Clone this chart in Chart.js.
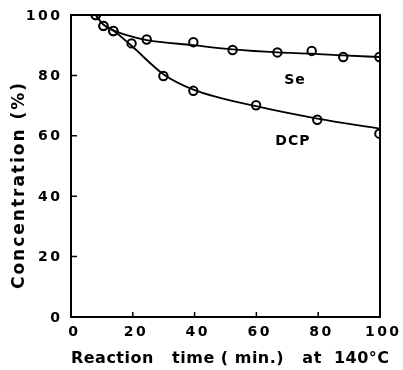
<!DOCTYPE html>
<html>
<head>
<meta charset="utf-8">
<script src="https://cdn.jsdelivr.net/npm/chart.js@4"></script>
<style>
html,body{margin:0;padding:0;background:#fff;}
#wrap{width:403px;height:370px;}
</style>
</head>
<body>
<div id="wrap"><canvas id="c" width="403" height="370"></canvas></div>
<script>
// Measured points (reaction time, concentration)
const seTime  = [8, 10.5, 13.7, 24.5, 39.6, 52.3, 66.8, 77.9, 88.1, 99.8];
const seConc  = [100, 96.4, 94.7, 91.9, 91.0, 88.4, 87.6, 88.1, 86.1, 86.1];
const dcpTime = [8, 10.5, 13.7, 19.6, 29.9, 39.6, 59.9, 79.7, 99.8];
const dcpConc = [100, 96.4, 94.7, 90.6, 79.8, 74.9, 70.1, 65.3, 60.7];
// Fitted curves
const seCurveTime  = [8, 10.5, 13.7, 18, 24.5, 39.6, 52.3, 66.8, 77.9, 88.1, 99.8];
const seCurveConc  = [100, 96.8, 94.9, 93.3, 91.7, 90.0, 88.6, 87.6, 87.2, 86.6, 86.1];
const dcpCurveTime = [8, 10.5, 13.7, 19.6, 29.9, 39.6, 59.9, 79.7, 99.8];
const dcpCurveConc = [100, 96.8, 94.9, 89.8, 80.4, 75.3, 69.8, 65.7, 62.4];
const xTicks = [0, 20, 40, 60, 80, 100];
const yTicks = [0, 20, 40, 60, 80, 100];
const seriesLabels = ['Se', 'DCP'];
const labelPos = [[72.5, 78.5], [71.8, 58]];
const xTitle = 'Reaction   time ( min.)   at  140°C';
const yTitle = 'Concentration (%)';

const pts = (xs, ys) => xs.map((x, i) => ({x, y: ys[i]}));
const FONT = '"DejaVu Sans"';

const framePlugin = {
  id: 'frame',
  afterDatasetsDraw(chart) {
    const {ctx, chartArea: a, scales: {x, y}} = chart;
    ctx.save();
    ctx.strokeStyle = '#000';
    ctx.lineWidth = 2;
    ctx.strokeRect(a.left, a.top, a.right - a.left, a.bottom - a.top);
    ctx.lineWidth = 1.5;
    ctx.beginPath();
    xTicks.slice(1, -1).forEach(v => {
      const px = x.getPixelForValue(v);
      ctx.moveTo(px, a.bottom); ctx.lineTo(px, a.bottom - 5);
    });
    yTicks.slice(1, -1).forEach(v => {
      const py = y.getPixelForValue(v);
      ctx.moveTo(a.left, py); ctx.lineTo(a.left + 6, py);
    });
    ctx.stroke();
    ctx.fillStyle = '#000';
    // series labels
    ctx.letterSpacing = '1px';
    ctx.font = 'bold 14px ' + FONT;
    ctx.textAlign = 'center';
    ctx.textBaseline = 'middle';
    seriesLabels.forEach((t, i) => {
      ctx.fillText(t, x.getPixelForValue(labelPos[i][0]), y.getPixelForValue(labelPos[i][1]));
    });
    // tick labels
    const ls = 2.5;
    ctx.font = 'bold 14px ' + FONT;
    ctx.letterSpacing = ls + 'px';
    ctx.textAlign = 'left';
    xTicks.forEach(v => {
      const s = String(v);
      const w = ctx.measureText(s).width - ls;
      ctx.fillText(s, x.getPixelForValue(v) + 2 - w / 2, a.bottom + 15);
    });
    yTicks.forEach(v => {
      const s = String(v);
      const w = ctx.measureText(s).width - ls;
      ctx.fillText(s, 60 - w, y.getPixelForValue(v) + 1);
    });
    // axis titles
    ctx.font = 'bold 16px ' + FONT;
    ctx.letterSpacing = '0.5px';
    const xw = ctx.measureText(xTitle).width - 0.5;
    ctx.textAlign = 'left';
    ctx.fillText(xTitle, 230 - xw / 2, 359);
    ctx.font = 'bold 17px ' + FONT;
    ctx.letterSpacing = '2px';
    const tw = ctx.measureText(yTitle).width - 2;
    ctx.translate(20, 186);
    ctx.rotate(-Math.PI / 2);
    ctx.fillText(yTitle, -tw / 2, 0);
    ctx.restore();
  }
};

const lineDs = (data) => ({
  type: 'line', data, borderColor: '#000', borderWidth: 1.8, pointRadius: 0,
  fill: false, cubicInterpolationMode: 'monotone', showLine: true
});
const markDs = (data) => ({
  type: 'scatter', data, showLine: false, pointRadius: 4.2, pointBorderWidth: 2,
  pointBackgroundColor: '#fff', pointBorderColor: '#000'
});

new Chart(document.getElementById('c'), {
  type: 'scatter',
  data: {
    datasets: [
      lineDs(pts(seCurveTime, seCurveConc)),
      lineDs(pts(dcpCurveTime, dcpCurveConc)),
      markDs(pts(seTime, seConc)),
      markDs(pts(dcpTime, dcpConc))
    ]
  },
  options: {
    responsive: false,
    animation: false,
    devicePixelRatio: 1,
    layout: {padding: {top: 15, right: 23, left: 0, bottom: 0}},
    plugins: {legend: {display: false}, tooltip: {enabled: false}},
    scales: {
      x: {
        type: 'linear', min: 0, max: 100,
        afterBuildTicks: s => { s.ticks = xTicks.map(v => ({value: v})); },
        afterFit: s => { s.height = 53; },
        grid: {display: false, drawTicks: false},
        border: {display: false},
        ticks: {display: false},
        title: {display: false, text: xTitle}
      },
      y: {
        type: 'linear', min: 0, max: 100,
        afterBuildTicks: s => { s.ticks = yTicks.map(v => ({value: v})); },
        afterFit: s => { s.width = 71; },
        grid: {display: false, drawTicks: false},
        border: {display: false},
        ticks: {display: false},
        title: {display: false, text: yTitle}
      }
    }
  },
  plugins: [framePlugin]
});
</script>
</body>
</html>
